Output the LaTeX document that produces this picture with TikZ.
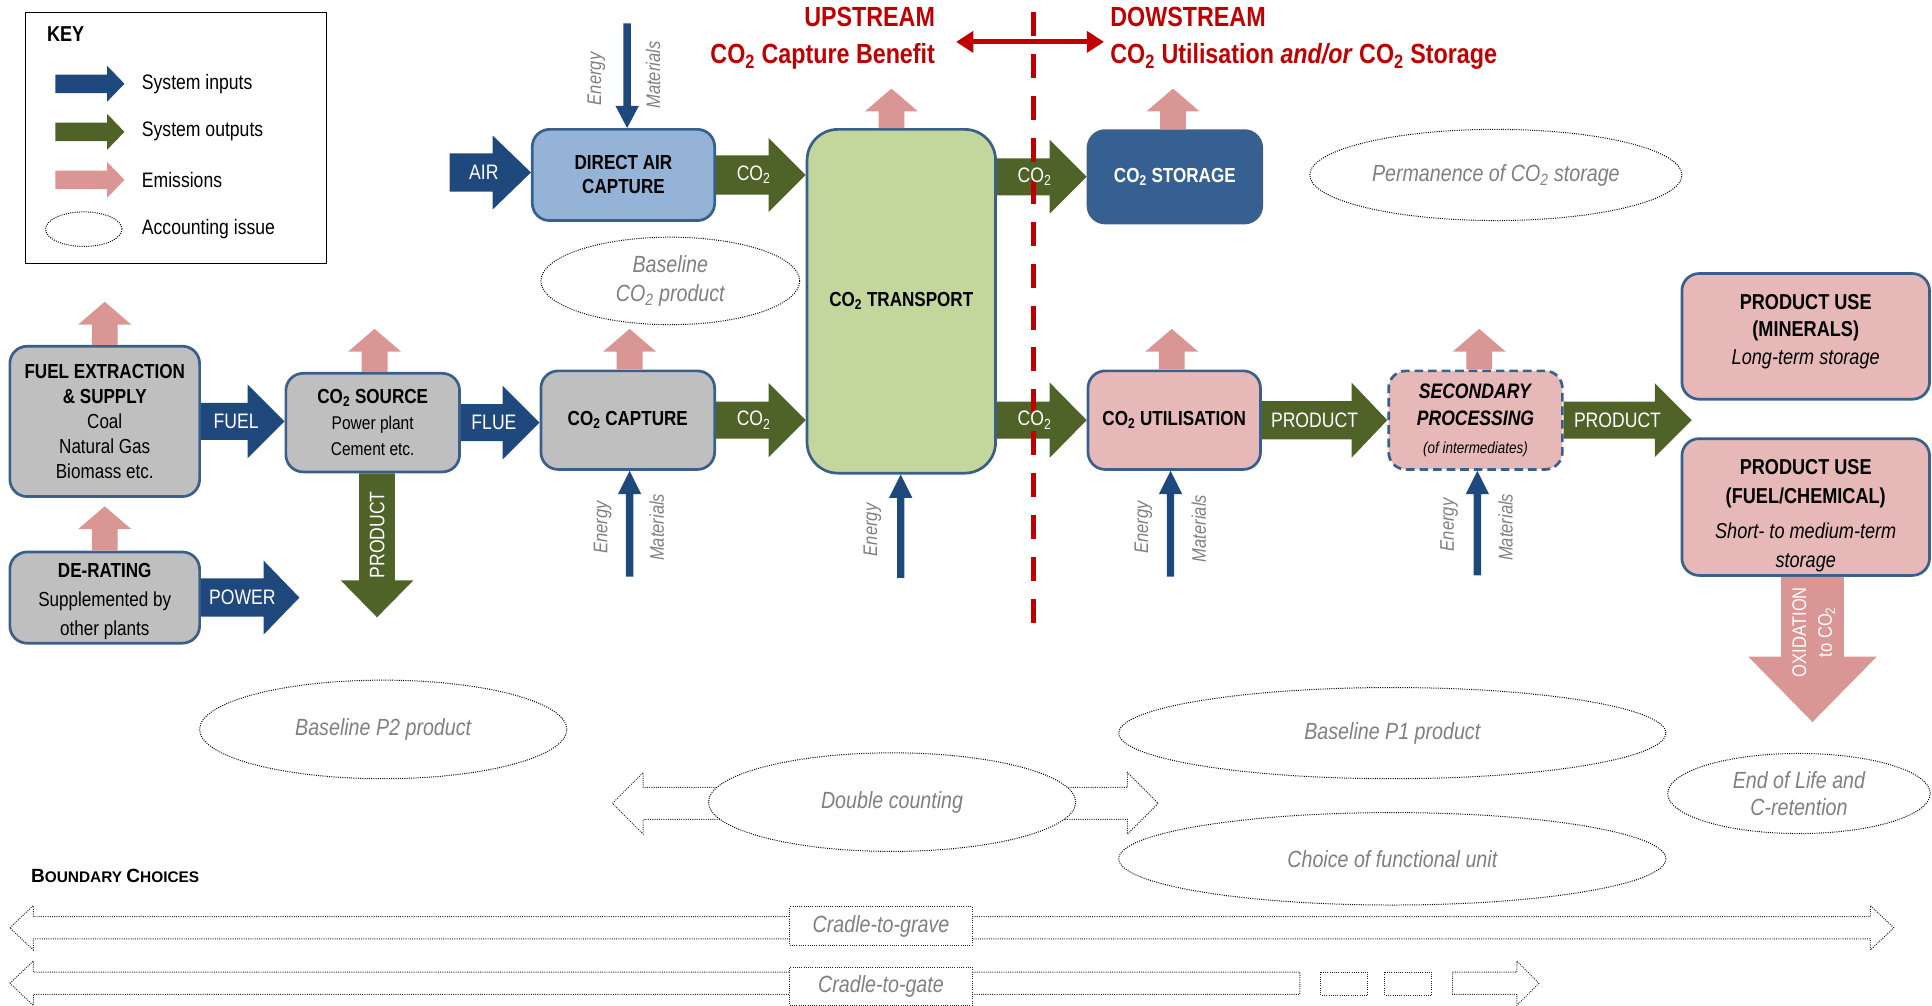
\documentclass[tikz,border=0pt]{standalone}
\usepackage{fontspec}
\setmainfont{Liberation Sans}[FakeStretch=0.84]
\newfontfamily\widefont{Liberation Sans}
\usetikzlibrary{arrows.meta,calc,shapes.geometric}
\definecolor{inblue}{HTML}{1F497D}
\definecolor{outgreen}{HTML}{4F6228}
\definecolor{empink}{HTML}{D99694}
\definecolor{boxgray}{HTML}{BFBFBF}
\definecolor{boxline}{HTML}{3A5F8B}
\definecolor{dacblue}{HTML}{95B3D7}
\definecolor{trgreen}{HTML}{C3D69B}
\definecolor{storblue}{HTML}{376092}
\definecolor{pinkbox}{HTML}{E6B9B8}
\definecolor{redline}{HTML}{C00000}
\definecolor{txtgray}{HTML}{808080}
\newcommand\fsz[2]{\fontsize{#1}{#2}\selectfont}
% horizontal block arrow: start, tip, colour, head length, shaft half, head half, label
\newcommand\harrow[7]{%
  \fill[#3] let \p1=#1, \p2=#2 in (\x1,\y1+#5pt) -- (\x2-#4pt,\y1+#5pt) -- (\x2-#4pt,\y1+#6pt) -- (\x2,\y1) -- (\x2-#4pt,\y1-#6pt) -- (\x2-#4pt,\y1-#5pt) -- (\x1,\y1-#5pt) -- cycle;
  \path let \p1=#1, \p2=#2 in node[arrlabel] at ({\x1+0.42*(\x2-\x1)},\y1) {#7};}
% vertical block arrows: start, tip, colour, head length, shaft half, head half
\newcommand\uarrow[6]{%
  \fill[#3] let \p1=#1, \p2=#2 in (\x1-#5pt,\y1) -- (\x1-#5pt,\y2-#4pt) -- (\x1-#6pt,\y2-#4pt) -- (\x1,\y2) -- (\x1+#6pt,\y2-#4pt) -- (\x1+#5pt,\y2-#4pt) -- (\x1+#5pt,\y1) -- cycle;}
\newcommand\darrow[6]{%
  \fill[#3] let \p1=#1, \p2=#2 in (\x1-#5pt,\y1) -- (\x1-#5pt,\y2+#4pt) -- (\x1-#6pt,\y2+#4pt) -- (\x1,\y2) -- (\x1+#6pt,\y2+#4pt) -- (\x1+#5pt,\y2+#4pt) -- (\x1+#5pt,\y1) -- cycle;}
\tikzset{
  procbox/.style={draw=boxline, line width=2.2pt, rounded corners=14pt, align=center, inner sep=0pt, font=\fsz{16.5}{20}},
  arrlabel/.style={text=white, font=\fsz{17}{20}, inner sep=0pt},
  issue/.style={ellipse, draw=black, densely dotted, line width=0.8pt, fill=white, inner sep=0pt, align=center, text=txtgray, font=\fsz{19}{23}\itshape},
  graylab/.style={text=txtgray, font=\fsz{16}{19}\itshape, rotate=90, inner sep=0pt},
  dotline/.style={draw=black!85, densely dotted, line width=0.8pt},
  keytext/.style={anchor=west, font=\fsz{17}{20}, inner sep=0pt},
  redhead/.style={text=redline, font=\fsz{22.5}{26}\bfseries, inner sep=0pt}
}
\begin{document}
\begin{tikzpicture}[x=1pt,y=-1pt]
\useasboundingbox (0,0) rectangle (1568,816);

% ---------- KEY ----------
\node[draw=black, line width=1pt, minimum width=244pt, minimum height=204pt, inner sep=0pt] (keybox) at (143,112) {};
\node[anchor=west, font=\fsz{17.5}{20}\bfseries, inner sep=0pt] (keytitle) at (38,28) {KEY};
\coordinate (k1a) at (45,68);  \coordinate (k1b) at (101,68);
\coordinate (k2a) at (45,107); \coordinate (k2b) at (101,107);
\coordinate (k3a) at (45,146); \coordinate (k3b) at (101,146);
\harrow{(k1a)}{(k1b)}{inblue}{14}{7.5}{14.5}{}
\harrow{(k2a)}{(k2b)}{outgreen}{14}{7.5}{14.5}{}
\harrow{(k3a)}{(k3b)}{empink}{14}{7.5}{14.5}{}
\node[issue, fill=none, minimum width=62pt, minimum height=28pt] (k4) at (68,186) {};
\node[keytext] (kt1) at (115,68) {System inputs};
\node[keytext] (kt2) at (115,107) {System outputs};
\node[keytext] (kt3) at (115,146) {Emissions};
\node[keytext] (kt4) at (115,186) {Accounting issue};

% ---------- accounting issue ellipses ----------
\coordinate (dcl) at (497,652); \coordinate (dcr) at (940,652);
\draw[dotline] (dcl) -- (522,627) -- (522,639) -- (915,639) -- (915,627) -- (dcr) -- (915,677) -- (915,665) -- (522,665) -- (522,677) -- cycle;
\node[issue, minimum width=210pt, minimum height=71pt] (bco2) at (544,228) {Baseline\\CO\textsubscript{2} product};
\node[issue, minimum width=302pt, minimum height=74pt] (perm) at (1214,142) {Permanence of CO\textsubscript{2} storage};
\node[issue, minimum width=298pt, minimum height=80pt] (bp2) at (311,592) {Baseline P2 product};
\node[issue, minimum width=298pt, minimum height=80pt] (dbl) at (724,651) {Double counting};
\node[issue, minimum width=444pt, minimum height=74pt] (bp1) at (1130,595) {Baseline P1 product};
\node[issue, minimum width=444pt, minimum height=75pt] (fu) at (1130,697) {Choice of functional unit};
\node[issue, minimum width=213pt, minimum height=65pt, font=\fsz{19}{22}\itshape] (eol) at (1460,644) {End of Life and\\C-retention};

% ---------- process boxes ----------
\node[procbox, fill=boxgray, minimum width=154pt, minimum height=122pt, font=\fsz{16.5}{20.2}] (fuel) at (85,342)
  {\textbf{FUEL EXTRACTION}\\\textbf{\& SUPPLY}\\Coal\\Natural Gas\\Biomass etc.};
\node[procbox, fill=boxgray, minimum width=154pt, minimum height=74pt] (derate) at (85,485) {};
\node[align=center, inner sep=0pt, font=\fsz{16.5}{23.5}] (deratetxt) at ([yshift=-3pt]derate.center)
  {\textbf{DE-RATING}\\Supplemented by\\other plants};
\node[procbox, fill=boxgray, minimum width=141pt, minimum height=80pt, font=\fsz{15}{21}] (src) at (302.5,343)
  {{\fsz{16.5}{21}\bfseries CO\textsubscript{2} SOURCE}\\Power plant\\Cement etc.};
\node[procbox, fill=boxgray, minimum width=141pt, minimum height=80pt] (cap) at (509.5,341)
  {\textbf{CO\textsubscript{2} CAPTURE}};
\node[procbox, fill=dacblue, minimum width=148pt, minimum height=74pt, font=\fsz{16.5}{19.5}] (dac) at (506,142)
  {\textbf{DIRECT AIR}\\\textbf{CAPTURE}};
\node[procbox, fill=trgreen, rounded corners=25pt, minimum width=153pt, minimum height=279pt] (trans) at (731.5,244.5)
  {\textbf{CO\textsubscript{2} TRANSPORT}};
\node[procbox, fill=storblue, text=white, minimum width=141pt, minimum height=75pt] (stor) at (953.5,143.5)
  {\textbf{CO\textsubscript{2} STORAGE}};
\node[procbox, fill=pinkbox, minimum width=140pt, minimum height=80pt] (util) at (953,341)
  {\textbf{CO\textsubscript{2} UTILISATION}};
\node[procbox, fill=pinkbox, dash pattern=on 7pt off 4pt, minimum width=141pt, minimum height=80pt, font=\fsz{17}{22.5}] (sec) at (1197.5,341)
  {\textbf{\textit{SECONDARY}}\\\textbf{\textit{PROCESSING}}\\{\fsz{13}{20}\itshape (of intermediates)}};
\node[procbox, fill=pinkbox, minimum width=201pt, minimum height=102pt] (pmin) at (1465.5,273) {};
\node[align=center, inner sep=0pt, font=\fsz{17.5}{22.5}] (pmintxt) at ([yshift=4pt]pmin.center)
  {\textbf{PRODUCT USE}\\\textbf{(MINERALS)}\\\textit{Long-term storage}};
\node[procbox, fill=pinkbox, minimum width=201pt, minimum height=111pt] (pfuel) at (1465.5,411.5) {};
\node[align=center, inner sep=0pt, font=\fsz{17.5}{23.5}] (pfueltxt) at ([yshift=-7pt]pfuel.center)
  {\textbf{PRODUCT USE}\\\textbf{(FUEL/CHEMICAL)}\\[5pt]\textit{Short- to medium-term}\\\textit{storage}};

% ---------- block arrows ----------
\coordinate (air) at (365,140);
\coordinate (pw) at (243,485);
\coordinate (prodend) at (1373,343);
\harrow{(air)}{(dac.west)}{inblue}{31}{15.5}{30}{AIR}
\harrow{(fuel.east)}{(src.west)}{inblue}{30}{15}{30}{FUEL}
\harrow{(src.east)}{(cap.west)}{inblue}{30}{15}{30}{FLUE}
\harrow{(derate.east)}{(pw)}{inblue}{29}{15.5}{30}{POWER}
\harrow{(dac.east)}{(dac.east -| trans.west)}{outgreen}{30}{16}{30}{CO\textsubscript{2}}
\harrow{(cap.east)}{(cap.east -| trans.west)}{outgreen}{30}{15}{30}{CO\textsubscript{2}}
\harrow{(trans.east |- stor.west)}{(stor.west)}{outgreen}{30}{15}{30}{}
\harrow{(trans.east |- util.west)}{(util.west)}{outgreen}{30}{15}{30.5}{}
\harrow{(util.east)}{(sec.west)}{outgreen}{29}{15.5}{30.5}{PRODUCT}
\harrow{(sec.east)}{(prodend)}{outgreen}{30}{15}{30}{PRODUCT}

\coordinate (pdtip) at (306,501);
\darrow{(pdtip |- src.south)}{(pdtip)}{outgreen}{30}{14.5}{29.5}
\node[arrlabel, rotate=90] (pdlab) at (306,434) {PRODUCT};
\coordinate (oxtip) at (1471,586);
\darrow{(oxtip |- pfuel.south)}{(oxtip)}{empink}{53}{25.5}{52}
\node[arrlabel, rotate=90, align=center, font=\fsz{16}{21}] (oxlab) at (1472,513) {OXIDATION\\to CO\textsubscript{2}};

% ---------- emissions ----------
\uarrow{(fuel.north)}{([yshift=35pt]fuel.north)}{empink}{18.5}{10.5}{21.5}
\uarrow{(derate.north)}{([yshift=36pt]derate.north)}{empink}{18.5}{10.5}{21.5}
\uarrow{([xshift=1.5pt]src.north)}{([xshift=1.5pt,yshift=35pt]src.north)}{empink}{18.5}{10.5}{21.5}
\uarrow{([xshift=1.5pt]cap.north)}{([xshift=1.5pt,yshift=33pt]cap.north)}{empink}{18.5}{10.5}{21.5}
\uarrow{([xshift=-8pt]trans.north)}{([xshift=-8pt,yshift=32pt]trans.north)}{empink}{18.5}{10.5}{21.5}
\uarrow{([xshift=-1.5pt]stor.north)}{([xshift=-1.5pt,yshift=33pt]stor.north)}{empink}{18.5}{10.5}{21.5}
\uarrow{([xshift=-2pt]util.north)}{([xshift=-2pt,yshift=33pt]util.north)}{empink}{18.5}{10.5}{21.5}
\uarrow{([xshift=3pt]sec.north)}{([xshift=3pt,yshift=33pt]sec.north)}{empink}{18.5}{10.5}{21.5}

% ---------- energy / materials ----------
\coordinate (edac) at (509,19);
\coordinate (ecap) at (511,468);
\coordinate (etr) at (731,469);
\coordinate (eut) at (950,468);
\coordinate (esec) at (1199,467);
\darrow{(edac)}{(edac |- dac.north)}{inblue}{18}{3}{9.5}
\uarrow{(ecap)}{(ecap |- cap.south)}{inblue}{19}{3}{9.5}
\uarrow{(etr)}{(etr |- trans.south)}{inblue}{19}{3}{9.5}
\uarrow{(eut)}{(eut |- util.south)}{inblue}{19}{3}{9.5}
\uarrow{(esec)}{(esec |- sec.south)}{inblue}{19}{3}{9.5}
\node[graylab] (en1) at (484,64) {Energy};
\node[graylab] (ma1) at (530,61) {Materials};
\node[graylab] (en2) at (489,428) {Energy};
\node[graylab] (ma2) at (533,428) {Materials};
\node[graylab] (en3) at (708,430) {Energy};
\node[graylab] (en4) at (928,428) {Energy};
\node[graylab] (ma4) at (973,429) {Materials};
\node[graylab] (en5) at (1176,426) {Energy};
\node[graylab] (ma5) at (1222,428) {Materials};

% ---------- upstream / downstream ----------
\node[redhead, anchor=east] (up1) at (759,14) {UPSTREAM};
\node[redhead, anchor=east] (up2) at (759,46) {CO\textsubscript{2} Capture Benefit};
\node[redhead, anchor=west] (dn1) at (901,14) {DOWSTREAM};
\node[redhead, anchor=west] (dn2) at (901,46) {CO\textsubscript{2} Utilisation \textit{and/or} CO\textsubscript{2} Storage};
\coordinate (rtop) at (839,10); \coordinate (rbot) at (839,507);
\draw[redline, line width=4pt, dash pattern=on 19.5pt off 14.5pt] (rtop) -- (rbot);
\coordinate (ral) at (776,34); \coordinate (rar) at (896,34);
\draw[redline, line width=4pt, {Triangle[length=14pt,width=17pt]}-{Triangle[length=14pt,width=17pt]}] (ral) -- (rar);
% labels of the two arrows crossing the red line, drawn over it
\path let \p1=(trans.east |- stor.west), \p2=(stor.west) in node[arrlabel] (co2s) at ({\x1+0.42*(\x2-\x1)},\y1) {CO\textsubscript{2}};
\path let \p1=(trans.east |- util.west), \p2=(util.west) in node[arrlabel] (co2u) at ({\x1+0.42*(\x2-\x1)},\y1) {CO\textsubscript{2}};

% ---------- boundary choices ----------
\node[anchor=west, inner sep=0pt, font=\widefont\bfseries] (bc) at (25,711)
  {\fsz{15.5}{18}B\fsz{12.5}{18}OUNDARY \fsz{15.5}{18}C\fsz{12.5}{18}HOICES};
\draw[dotline, fill=white] (8,753) -- (27,735) -- (27,744) -- (1518,744) -- (1518,735) -- (1537,753) -- (1518,771) -- (1518,762) -- (27,762) -- (27,771) -- cycle;
\node[dotline, fill=white, minimum width=148pt, minimum height=31pt, inner sep=0pt, text=txtgray, font=\fsz{19}{22}\itshape] (cgrave) at (715,751.5) {Cradle-to-grave};
\draw[dotline, fill=white] (8,798) -- (27,780) -- (27,789) -- (1055,789) -- (1055,807) -- (27,807) -- (27,816) -- cycle;
\draw[dotline] (1072,789) rectangle (1110,808);
\draw[dotline] (1124,789) rectangle (1162,808);
\draw[dotline] (1179,789) -- (1231,789) -- (1231,780) -- (1249,798) -- (1231,816) -- (1231,807) -- (1179,807) -- cycle;
\node[dotline, fill=white, minimum width=148pt, minimum height=31pt, inner sep=0pt, text=txtgray, font=\fsz{19}{22}\itshape] (cgate) at (715,800.5) {Cradle-to-gate};
\end{tikzpicture}
\end{document}
